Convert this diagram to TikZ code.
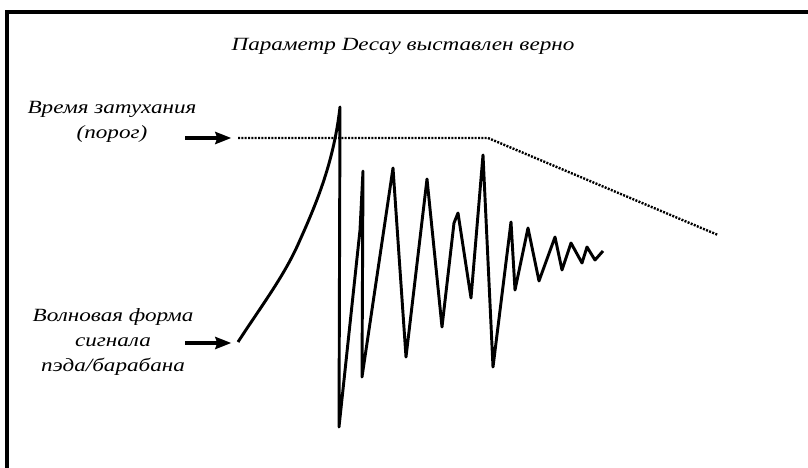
\documentclass[tikz,border=0pt]{standalone}
\usepackage{fontspec}
\setmainfont{Liberation Serif}
\newfontfamily\lblfont[FakeStretch=1.24]{Liberation Serif}
\usetikzlibrary{arrows.meta}

\begin{document}
\begin{tikzpicture}[x=0.75pt, y=-0.75pt,
    lbl/.style = {align=center, font=\lblfont\itshape\fontsize{14}{18.5}\selectfont, inner sep=0pt},
    arr/.style = {line width=2.6pt, -{Stealth[length=12pt, width=9pt, inset=1.5pt]}},
    wave/.style = {line width=2.2pt, line join=round},
    thr/.style = {line width=1.8pt, dash pattern=on 1.5pt off 1.0pt}]
    \useasboundingbox (0,0) rectangle (808,468);

    % frame (only top and left edges show)
    \draw[line width=2.4pt] (7,468) -- (7,12) -- (808,12);

    \node[lbl] (title) at (403,46) {Параметр Decay выставлен верно};
    \node[lbl] (decay) at (112,122) {Время затухания\\(порог)};
    \node[lbl] (signal) at (113,342) {Волновая форма\\сигнала\\пэда/барабана};

    \coordinate (d0) at (238,138);
    \coordinate (d1) at (488,138);
    \coordinate (d2) at (718,235);
    \coordinate (w0) at (238,342);
    \coordinate (a1) at (185,138);
    \coordinate (a2) at (185,343);

    \draw[arr] (a1) -- ([xshift=-5]d0);
    \draw[arr] (a2) -- ([xshift=-5]w0 |- a2);

    % threshold line
    \draw[thr] (d0) -- (d1) -- (d2);

    % pad signal
    \draw[wave] (w0) .. controls (262,305) and (285,275) .. (300,240)
        .. controls (318,200) and (334,160) .. (340,107)
        -- (339,427) -- (360,230) -- (363,171) -- (362,377)
        -- (393,168) -- (406,357) -- (427,179) -- (442,327)
        -- (454,223) -- (458,213) -- (471,298) -- (483,155)
        -- (493,367) -- (511,222) -- (515,290) -- (528,228)
        -- (539,281) -- (555,237) -- (562,270) -- (571,243)
        -- (582,263) -- (587,247) -- (595,260) -- (603,251);
\end{tikzpicture}
\end{document}
